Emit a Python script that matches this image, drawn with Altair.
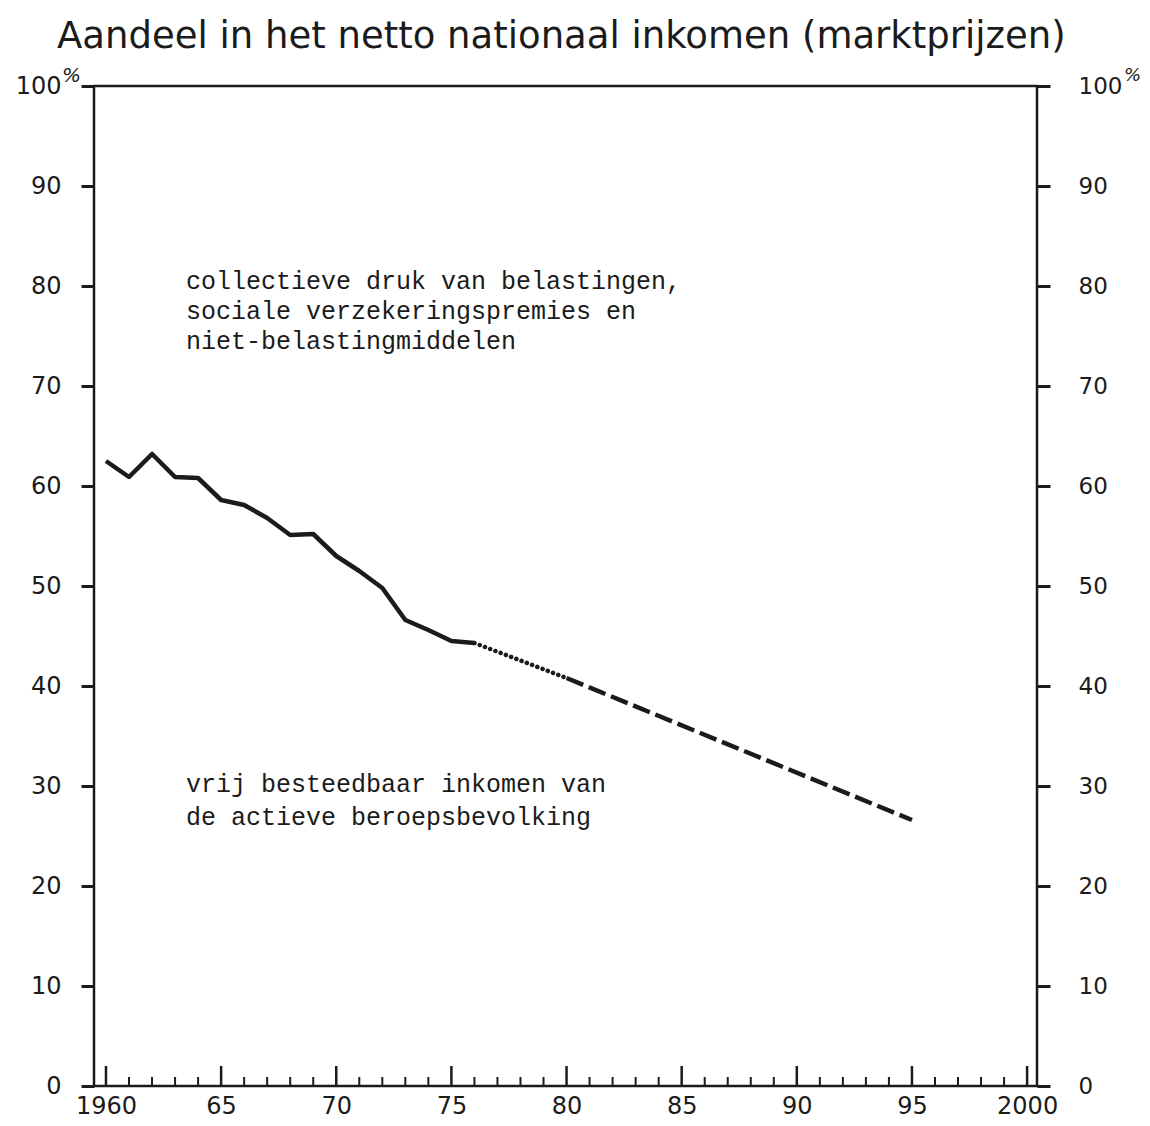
import altair as alt
import pandas as pd

# ---- data ----
years_obs = list(range(1960, 1977))
share_obs = [62.5, 60.9, 63.2, 60.9, 60.8, 58.6, 58.1, 56.8, 55.1, 55.2,
             53.0, 51.5, 49.8, 46.6, 45.6, 44.5, 44.3]
years_trans = [1976, 1980]
share_trans = [44.3, 40.8]
years_proj = [1980, 1995]
share_proj = [40.8, 26.6]

y_ticks = [0, 10, 20, 30, 40, 50, 60, 70, 80, 90, 100]
x_label_years = [1960, 1965, 1970, 1975, 1980, 1985, 1990, 1995, 2000]
minor_years = [y for y in range(1960, 2001) if y % 5 != 0]

title_text = "Aandeel in het netto nationaal inkomen (marktprijzen)"
note_upper = ["collectieve druk van belastingen,",
              "sociale verzekeringspremies en",
              "niet-belastingmiddelen"]
note_lower = ["vrij besteedbaar inkomen van",
              "de actieve beroepsbevolking"]
pct_sign = "%"

INK = "#1b1b1b"
W, H = 943, 1000

df_obs = pd.DataFrame({"year": years_obs, "share": share_obs})
df_trans = pd.DataFrame({"year": years_trans, "share": share_trans})
df_proj = pd.DataFrame({"year": years_proj, "share": share_proj})
df_major = pd.DataFrame({"year": x_label_years})
df_minor = pd.DataFrame({"year": minor_years})

xscale = alt.Scale(domain=[1959.48, 2000.43], nice=False, zero=False)
yscale = alt.Scale(domain=[0, 100], nice=False)

x_axis = alt.Axis(values=x_label_years, ticks=False, domain=False, grid=False,
                  title=None, labelFont="DejaVu Sans", labelFontSize=24,
                  labelColor=INK, labelPadding=8,
                  labelExpr="datum.value % 100 == 0 || datum.value == 1960 ? format(datum.value, 'd') : format(datum.value % 100, '02d')")

left_axis = alt.Axis(values=y_ticks, orient="left", domain=False, grid=False,
                     title=None, tickSize=13, tickWidth=3, tickColor=INK,
                     labelFont="DejaVu Sans", labelFontSize=24, labelColor=INK,
                     labelPadding=20)
right_axis = alt.Axis(values=y_ticks, orient="right", domain=False, grid=False,
                      title=None, tickSize=13, tickWidth=3, tickColor=INK,
                      labelFont="DejaVu Sans", labelFontSize=23, labelColor=INK,
                      labelPadding=28)

X = alt.X("year:Q", scale=xscale, axis=x_axis)

solid = alt.Chart(df_obs).mark_line(color=INK, strokeWidth=4.5, strokeJoin="round").encode(
    x=X,
    y=alt.Y("share:Q", scale=yscale, axis=left_axis),
)
dotted = alt.Chart(df_trans).mark_line(color=INK, strokeWidth=4.5, strokeDash=[0.1, 5.5],
                                       strokeCap="round").encode(
    x=X,
    y=alt.Y("share:Q", scale=yscale, axis=right_axis),
)
dashed = alt.Chart(df_proj).mark_line(color=INK, strokeWidth=4.5, strokeDash=[18, 6]).encode(
    x=X,
    y=alt.Y("share:Q", scale=yscale, axis=None),
)

major_ticks = alt.Chart(df_major).mark_rule(color=INK, strokeWidth=2.5).encode(
    x=X, y=alt.value(H), y2=alt.value(H - 20),
)
minor_ticks = alt.Chart(df_minor).mark_rule(color=INK, strokeWidth=2).encode(
    x=X, y=alt.value(H), y2=alt.value(H - 9),
)

upper = alt.Chart(pd.DataFrame({"note": ["\n".join(note_upper)]})).mark_text(
    font="Liberation Mono", fontSize=25, color=INK, align="left",
    baseline="alphabetic", lineBreak="\n", lineHeight=30).encode(
    text="note:N", x=alt.value(92), y=alt.value(203))
lower = alt.Chart(pd.DataFrame({"note": ["\n".join(note_lower)]})).mark_text(
    font="Liberation Mono", fontSize=25, color=INK, align="left",
    baseline="alphabetic", lineBreak="\n", lineHeight=33).encode(
    text="note:N", x=alt.value(92), y=alt.value(706))
title = alt.Chart(pd.DataFrame({"t": [title_text]})).mark_text(
    font="DejaVu Sans", fontSize=37, color=INK, align="left",
    baseline="alphabetic").encode(
    text="t:N", x=alt.value(-37), y=alt.value(-38))

pct_df = pd.DataFrame({"p": [pct_sign]})
pct_left = alt.Chart(pct_df).mark_text(
    font="DejaVu Sans", fontSize=20, fontStyle="italic", color=INK, align="left",
    baseline="middle").encode(text="p:N", x=alt.value(-32), y=alt.value(-10))
pct_right = alt.Chart(pct_df).mark_text(
    font="DejaVu Sans", fontSize=18, fontStyle="italic", color=INK, align="left",
    baseline="middle").encode(text="p:N", x=alt.value(W + 87), y=alt.value(-10))

chart = alt.layer(
    solid, dotted, dashed, major_ticks, minor_ticks, upper, lower, title,
    pct_left, pct_right
).resolve_axis(y="independent").properties(
    width=W, height=H,
    autosize=alt.AutoSizeParams(type="none"),
    padding={"left": 86, "top": 78, "right": 105, "bottom": 32},
    background="white",
).configure_view(stroke=INK, strokeWidth=2.5)

chart.save("out.html", embed_options={"renderer": "svg", "actions": False})
